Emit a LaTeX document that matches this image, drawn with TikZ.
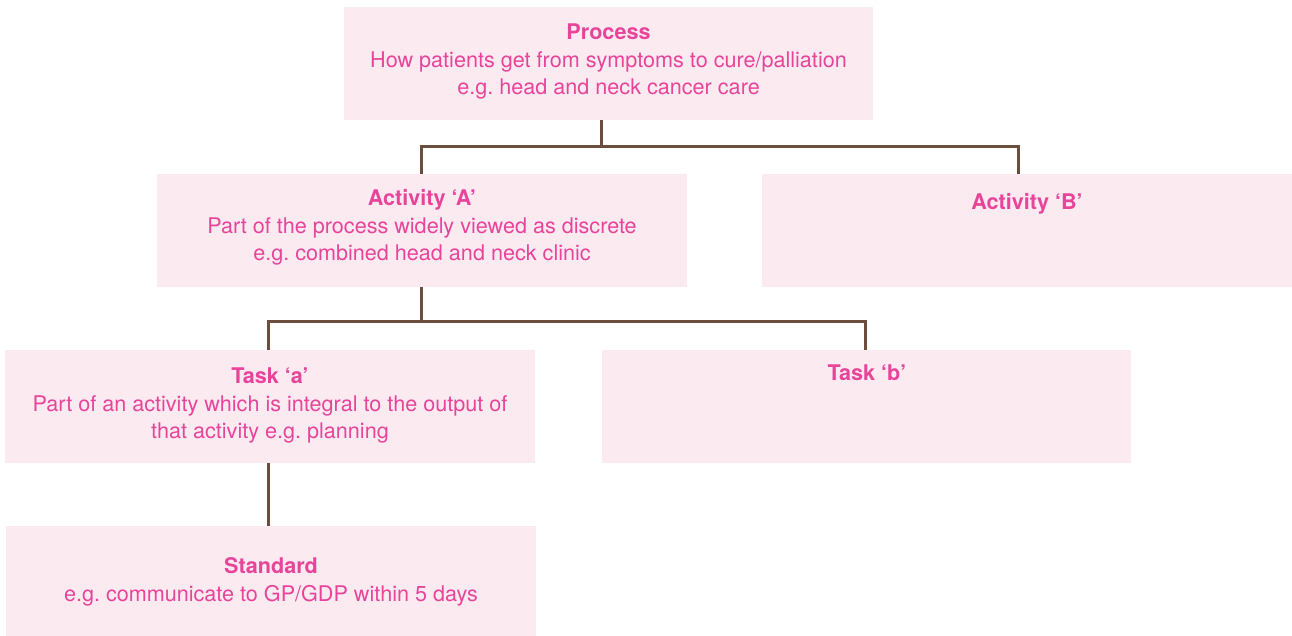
\documentclass[tikz,border=0pt]{standalone}
\usepackage{fontspec}
\setmainfont{TeX Gyre Heros}
\definecolor{boxfill}{HTML}{FBEBF1}
\definecolor{txtpink}{HTML}{E8449A}
\definecolor{linebrown}{HTML}{6B4E3D}
\frenchspacing
\begin{document}
\frenchspacing
\begin{tikzpicture}[x=1pt,y=-1pt,
  box/.style={fill=boxfill, draw=none, inner sep=0pt, anchor=north west, minimum height=113pt},
  ttl/.style={anchor=base, inner sep=0pt, text=txtpink, font=\fontsize{21.6}{27}\selectfont\frenchspacing\bfseries},
  txt/.style={anchor=base, inner sep=0pt, text=txtpink, font=\fontsize{21.6}{27}\selectfont\frenchspacing},
  conn/.style={draw=linebrown, line width=3pt}]
\useasboundingbox (0,0) rectangle (1292,636);
% boxes
\node[box, minimum width=529pt] (proc) at (344,7) {};
\node[box, minimum width=530pt] (actA) at (157,174) {};
\node[box, minimum width=530pt] (actB) at (762,174) {};
\node[box, minimum width=530pt] (taskA) at (5,350) {};
\node[box, minimum width=529pt] (taskB) at (602,350) {};
\node[box, minimum width=530pt, minimum height=110pt] (std) at (6,526) {};
% texts
\node[ttl] (procT) at (608.5,40) {Process};
\node[txt] (procL1) at (608.5,68) {How patients get from symptoms to cure/palliation};
\node[txt] (procL2) at (608.5,95) {e.g. head and neck cancer care};
\node[ttl] (actAT) at (422,206) {Activity ‘A’};
\node[txt] (actAL1) at (422,234) {Part of the process widely viewed as discrete};
\node[txt] (actAL2) at (422,261) {e.g. combined head and neck clinic};
\node[ttl] (actBT) at (1027,210) {Activity ‘B’};
\node[ttl] (taskAT) at (270,383) {Task ‘a’};
\node[txt] (taskAL1) at (270,411) {Part of an activity which is integral to the output of};
\node[txt] (taskAL2) at (270,438) {that activity e.g. planning};
\node[ttl] (taskBT) at (867,380) {Task ‘b’};
\node[ttl] (stdT) at (271,573) {Standard};
\node[txt] (stdL1) at (271,601) {e.g. communicate to GP/GDP within 5 days};
% connectors
\draw[conn] ([xshift=-7.5pt]proc.south) -- ++(0,27);
\draw[conn] ([xshift=-1pt]actA.north) -- ++(0,-27) -| ([xshift=-8.5pt]actB.north);
\draw[conn] ([xshift=-1pt]actA.south) -- ++(0,34);
\draw[conn] ([xshift=-2pt]taskA.north) -- ++(0,-29) -| ([xshift=-1.5pt]taskB.north);
\draw[conn] ([xshift=-2pt]taskA.south) -- ([xshift=-3pt]std.north);
\end{tikzpicture}
\end{document}
